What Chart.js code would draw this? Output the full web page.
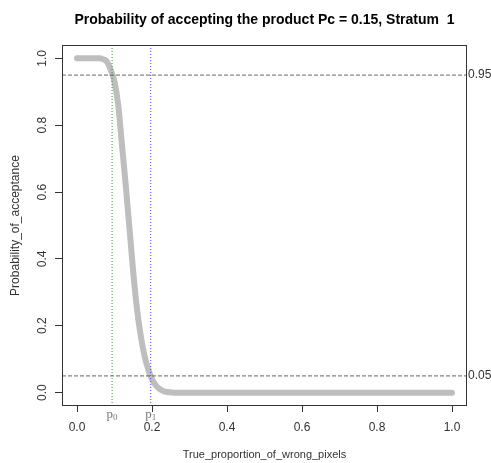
<!DOCTYPE html>
<html>
<head>
<meta charset="utf-8">
<script src="https://cdn.jsdelivr.net/npm/chart.js@4.4.1/dist/chart.umd.min.js"></script>
<style>
  body { margin: 0; background: #fff; }
  canvas { display: block; }
</style>
</head>
<body>
<canvas id="myChart" width="491" height="463"></canvas>
<script>
// values
var proportion = [0, 0.01, 0.02, 0.03, 0.04, 0.05, 0.06, 0.07, 0.08, 0.09, 0.10, 0.11, 0.12, 0.13, 0.14,
    0.15, 0.16, 0.17, 0.18, 0.19, 0.20, 0.21, 0.22, 0.23, 0.24, 0.25, 0.26, 0.3, 0.4, 0.5, 0.6, 0.7, 0.8, 0.9, 1.0];
var acceptance = [1, 1, 1, 1, 1, 1, 1, 0.997, 0.99, 0.965, 0.93, 0.86, 0.74, 0.62, 0.49,
    0.36, 0.25, 0.17, 0.11, 0.07, 0.04, 0.022, 0.011, 0.005, 0.002, 0.001, 0, 0, 0, 0, 0, 0, 0, 0, 0];
var p0 = 0.0935;
var p1 = 0.1965;
var levels = [0.95, 0.05];
var xTicks = [0, 0.2, 0.4, 0.6, 0.8, 1.0];
var yTicks = [0, 0.2, 0.4, 0.6, 0.8, 1.0];
var rightTicks = [0.05, 0.95];

var xMin = -0.04, xMax = 1.04, yMin = -0.04, yMax = 1.04;
var tickFont = { family: 'Liberation Sans', size: 12 };
var titleFont = { family: 'Liberation Sans', size: 11 };

var curve = [];
for (var i = 0; i < proportion.length; i++) {
    curve.push({ x: proportion[i], y: acceptance[i] });
}

var datasets = [];
levels.forEach(function (lv) {
    datasets.push({
        data: [{ x: xMin, y: lv }, { x: xMax, y: lv }],
        borderColor: '#666', borderWidth: 1, borderDash: [4, 2], pointRadius: 0
    });
});
datasets.push({
    data: [{ x: p0, y: yMin }, { x: p0, y: yMax }],
    borderColor: '#2f8f2f', borderWidth: 1, borderDash: [1, 2], pointRadius: 0
});
datasets.push({
    data: [{ x: p1, y: yMin }, { x: p1, y: yMax }],
    borderColor: '#4a4aff', borderWidth: 1, borderDash: [1, 2], pointRadius: 0
});
datasets.push({
    data: curve,
    borderColor: '#bebebe', borderWidth: 6, pointRadius: 0,
    cubicInterpolationMode: 'monotone', borderCapStyle: 'round', borderJoinStyle: 'round'
});

var boxAndMarks = {
    id: 'boxAndMarks',
    afterDraw: function (chart) {
        var a = chart.chartArea;
        var c = chart.ctx;
        c.save();
        c.strokeStyle = '#333';
        c.lineWidth = 1;
        c.strokeRect(a.left + 0.5, a.top + 0.5, a.right - a.left - 1, a.bottom - a.top - 1);
        var xs = chart.scales.x;
        c.fillStyle = '#777';
        c.textBaseline = 'alphabetic';
        [[p0, '0'], [p1, '1']].forEach(function (p) {
            var px = xs.getPixelForValue(p[0]);
            c.font = '13px "Liberation Serif"';
            c.textAlign = 'right';
            c.fillText('p', px + 1, a.bottom + 12);
            c.font = '9px "Liberation Serif"';
            c.textAlign = 'left';
            c.fillText(p[1], px + 1, a.bottom + 14);
        });
        c.restore();
    }
};

var ctx = document.getElementById('myChart').getContext('2d');
var myChart = new Chart(ctx, {
    type: 'line',
    data: { datasets: datasets },
    options: {
        responsive: false,
        animation: false,
        layout: { padding: 0 },
        plugins: {
            legend: { display: false },
            tooltip: { enabled: false },
            title: {
                display: true,
                fullSize: false,
                text: 'Probability of accepting the product Pc = 0.15, Stratum  1',
                color: '#000',
                font: { family: 'Liberation Sans', size: 14, weight: 'bold' },
                padding: { top: 11.6, bottom: 16.6 }
            }
        },
        scales: {
            x: {
                type: 'linear', position: 'bottom', min: xMin, max: xMax,
                afterBuildTicks: function (s) { s.ticks = xTicks.map(function (v) { return { value: v }; }); },
                afterFit: function (s) { s.height = 57; },
                ticks: {
                    autoSkip: false, maxRotation: 0, color: '#333', font: tickFont, padding: 8,
                    callback: function (v) { return v.toFixed(1); }
                },
                grid: { drawOnChartArea: false, drawTicks: true, tickLength: 6, tickColor: '#333' },
                border: { display: false },
                title: {
                    display: true, text: 'True_proportion_of_wrong_pixels', color: '#333',
                    font: titleFont, padding: { top: 0, bottom: 1 }
                }
            },
            y: {
                type: 'linear', position: 'left', min: yMin, max: yMax,
                afterBuildTicks: function (s) { s.ticks = yTicks.map(function (v) { return { value: v }; }); },
                afterFit: function (s) { s.width = 62; },
                ticks: {
                    autoSkip: false, minRotation: 90, maxRotation: 90, crossAlign: 'center',
                    color: '#333', font: tickFont, padding: 4,
                    callback: function (v) { return v.toFixed(1); }
                },
                grid: { drawOnChartArea: false, drawTicks: true, tickLength: 7, tickColor: '#333' },
                border: { display: false },
                title: {
                    display: true, text: 'Probability_of_acceptance', color: '#333',
                    font: tickFont, padding: { top: 8, bottom: 0 }
                }
            },
            y2: {
                type: 'linear', position: 'right', min: yMin, max: yMax,
                afterBuildTicks: function (s) { s.ticks = rightTicks.map(function (v) { return { value: v }; }); },
                afterFit: function (s) { s.width = 24; },
                ticks: {
                    autoSkip: false, color: '#333', font: tickFont, padding: 1,
                    callback: function (v) { return v.toFixed(2); }
                },
                grid: { display: false, drawTicks: false },
                border: { display: false }
            }
        }
    },
    plugins: [boxAndMarks]
});
</script>
</body>
</html>
